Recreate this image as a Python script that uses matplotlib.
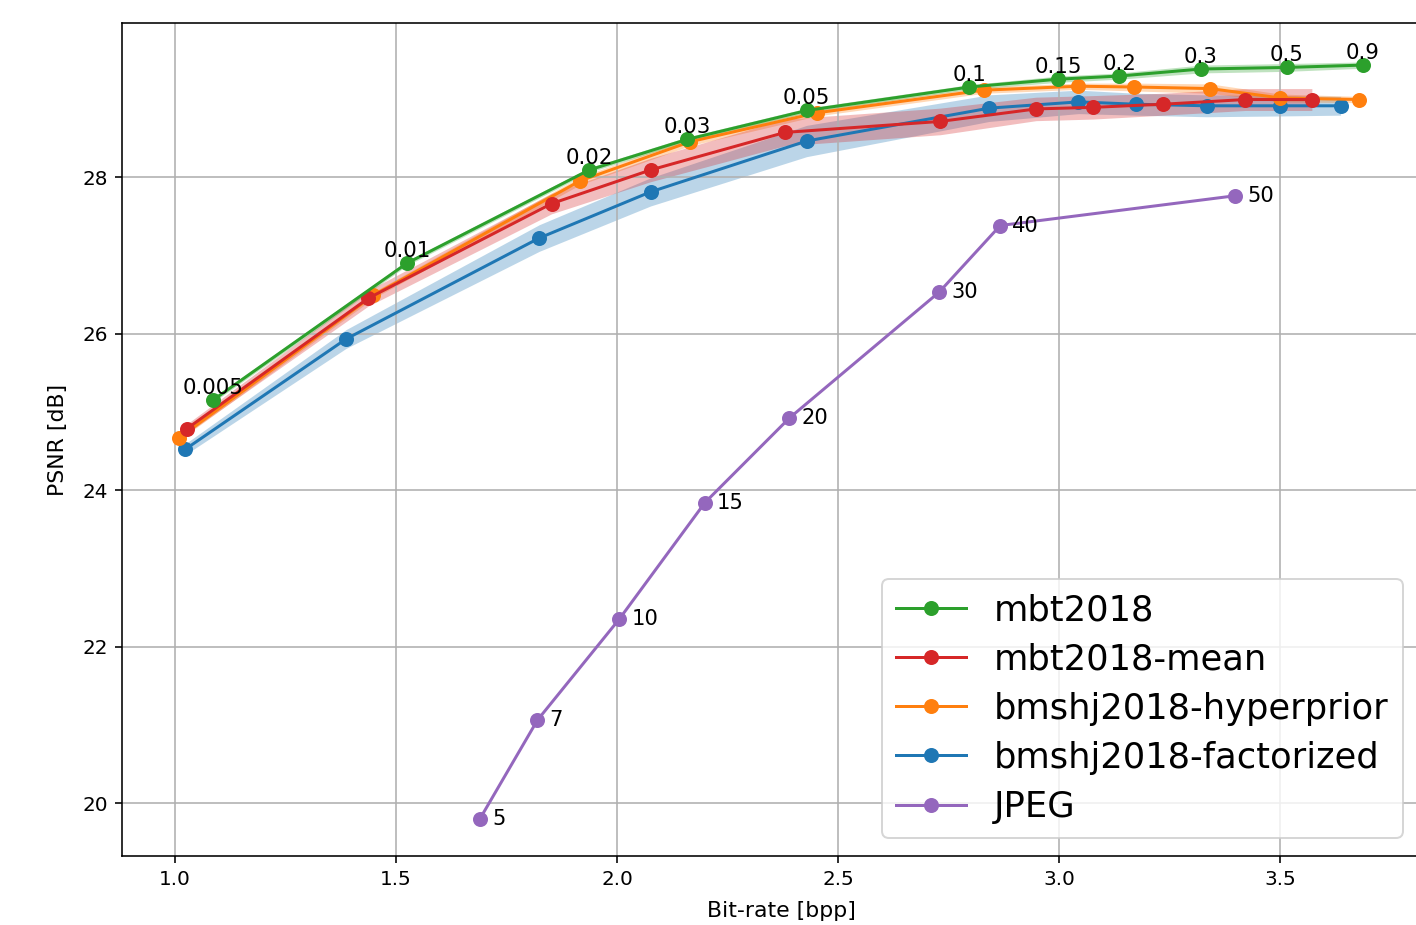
import numpy as np
import matplotlib
matplotlib.use("Agg")
import matplotlib.pyplot as plt

# datos
lambdas = ["0.005", "0.01", "0.02", "0.03", "0.05", "0.1", "0.15", "0.2", "0.3", "0.5", "0.9"]

mbt_bpp = [1.086, 1.525, 1.937, 2.158, 2.429, 2.797, 2.998, 3.136, 3.321, 3.515, 3.687]
mbt_psnr = [25.15, 26.90, 28.09, 28.48, 28.85, 29.15, 29.25, 29.29, 29.38, 29.40, 29.43]
mbt_std = [0.03, 0.03, 0.03, 0.03, 0.03, 0.03, 0.04, 0.04, 0.05, 0.05, 0.04]

mean_bpp = [1.026, 1.437, 1.852, 2.076, 2.380, 2.731, 2.948, 3.076, 3.235, 3.421, 3.572]
mean_psnr = [24.78, 26.45, 27.66, 28.09, 28.57, 28.71, 28.87, 28.89, 28.93, 28.99, 28.99]
mean_std = [0.06, 0.10, 0.13, 0.15, 0.17, 0.17, 0.15, 0.15, 0.14, 0.14, 0.14]

hyper_bpp = [1.010, 1.449, 1.916, 2.165, 2.452, 2.830, 3.044, 3.170, 3.342, 3.501, 3.679]
hyper_psnr = [24.67, 26.49, 27.95, 28.45, 28.82, 29.11, 29.16, 29.15, 29.13, 29.01, 28.99]
hyper_std = [0.03, 0.04, 0.05, 0.05, 0.04, 0.04, 0.04, 0.05, 0.06, 0.05, 0.04]

fact_bpp = [1.023, 1.387, 1.824, 2.076, 2.429, 2.842, 3.044, 3.174, 3.334, 3.501, 3.637]
fact_psnr = [24.52, 25.93, 27.22, 27.81, 28.46, 28.88, 28.96, 28.93, 28.91, 28.91, 28.91]
fact_std = [0.07, 0.12, 0.17, 0.18, 0.20, 0.17, 0.15, 0.14, 0.14, 0.13, 0.12]

jpeg_q = ["5", "7", "10", "15", "20", "30", "40", "50"]
jpeg_bpp = [1.690, 1.820, 2.005, 2.199, 2.390, 2.729, 2.867, 3.398]
jpeg_psnr = [19.80, 21.06, 22.35, 23.84, 24.92, 26.53, 27.38, 27.76]

fig = plt.figure(figsize=(1416 / 144, 925 / 144), dpi=144)
# el eje sigue mas alla del borde derecho (la imagen original esta recortada)
ax = fig.add_axes([122 / 1416, 69 / 925, 1318 / 1416, 833 / 925])
ax.set_xlim(0.880, 0.880 + 1318 / 442)
ax.set_ylim(19.323, 29.968)

series = [
    ("bmshj2018-factorized", fact_bpp, fact_psnr, fact_std, "C0"),
    ("bmshj2018-hyperprior", hyper_bpp, hyper_psnr, hyper_std, "C1"),
    ("mbt2018-mean", mean_bpp, mean_psnr, mean_std, "C3"),
    ("mbt2018", mbt_bpp, mbt_psnr, mbt_std, "C2"),
]

handles = {}
h, = ax.plot(jpeg_bpp, jpeg_psnr, "o-", color="C4", ms=6.5, label="JPEG")
handles["JPEG"] = h
for name, x, y, s, c in series:
    y = np.array(y)
    s = np.array(s)
    ax.fill_between(x, y - s, y + s, color=c, alpha=0.3, linewidth=0)
    h, = ax.plot(x, y, "o-", color=c, ms=6.5, label=name)
    handles[name] = h

for lab, x, y in zip(lambdas, mbt_bpp, mbt_psnr):
    ax.annotate(lab, (x, y), xytext=(0, 3), textcoords="offset points",
                ha="center", va="baseline", fontsize=10.7)

for lab, x, y in zip(jpeg_q, jpeg_bpp, jpeg_psnr):
    ax.annotate(lab, (x, y), xytext=(6, 0), textcoords="offset points",
                ha="left", va="center", fontsize=10.5)

orden = ["mbt2018", "mbt2018-mean", "bmshj2018-hyperprior", "bmshj2018-factorized", "JPEG"]
leg = ax.legend([handles[n] for n in orden], orden, fontsize=17.6, labelspacing=0.43,
                loc="lower right", bbox_to_anchor=(1403 / 1416, 87 / 925),
                bbox_transform=fig.transFigure, borderaxespad=0)

ax.set_xlabel("Bit-rate [bpp]", fontsize=11, labelpad=6)
ax.set_ylabel("PSNR [dB]", fontsize=11, labelpad=7)
ax.grid(True)

fig.savefig("out.png", dpi=144)
